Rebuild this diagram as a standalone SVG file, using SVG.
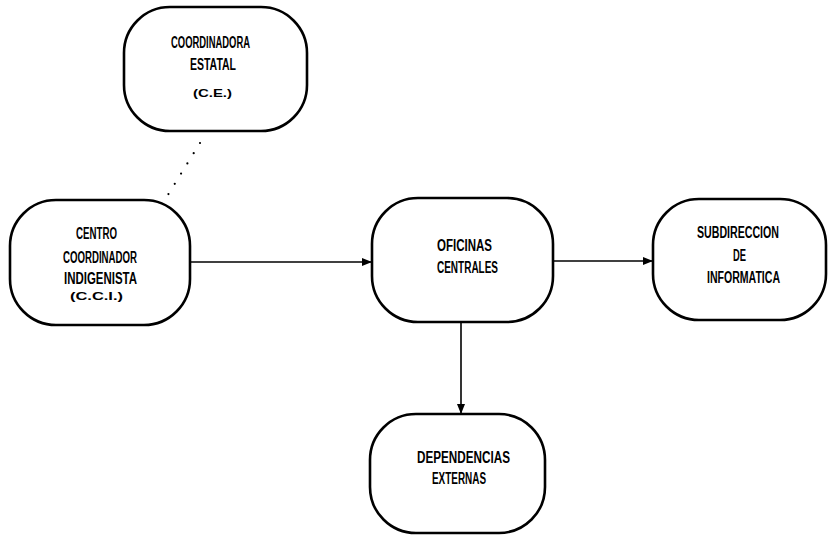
<svg xmlns="http://www.w3.org/2000/svg" width="828" height="537" viewBox="0 0 828 537">
<style>
.box{fill:#fff;stroke:#000;stroke-width:2.6}
.t{font-family:"Liberation Sans",Arial,sans-serif;font-weight:bold;font-size:16px;fill:#000}
.s{font-family:"Liberation Sans",Arial,sans-serif;font-weight:bold;font-size:11px;fill:#000}
.c{stroke:#000;stroke-width:1.6;fill:none}
.dot{stroke:#000;stroke-width:2.2;stroke-linecap:round;stroke-dasharray:0 12;fill:none}
</style>
<defs>
<marker id="ah" markerWidth="10" markerHeight="8" refX="9" refY="4" orient="auto" markerUnits="userSpaceOnUse">
<path d="M0,0 L10,4 L0,8 Z" fill="#000"/>
</marker>
</defs>
<rect width="828" height="537" fill="#fff"/>
<g id="connectors">
<line class="c" x1="190" y1="262" x2="371" y2="262" marker-end="url(#ah)"/>
<line class="c" x1="553" y1="261" x2="652" y2="261" marker-end="url(#ah)"/>
<line class="c" x1="461" y1="322" x2="461" y2="413" marker-end="url(#ah)"/>
<path class="dot" d="M200,143 L166,198"/>
</g>
<g id="ce">
<rect class="box" x="124" y="7" width="183" height="124" rx="46" ry="46"/>
<text class="t" x="171" y="48" textLength="79" lengthAdjust="spacingAndGlyphs">COORDINADORA</text>
<text class="t" x="190" y="70" textLength="46" lengthAdjust="spacingAndGlyphs">ESTATAL</text>
<text class="s" x="193" y="97" textLength="39" lengthAdjust="spacingAndGlyphs">(C.E.)</text>
</g>
<g id="cci">
<rect class="box" x="10" y="200" width="180" height="125" rx="46" ry="46"/>
<text class="t" x="76" y="239" textLength="41" lengthAdjust="spacingAndGlyphs">CENTRO</text>
<text class="t" x="63" y="263" textLength="74" lengthAdjust="spacingAndGlyphs">COORDINADOR</text>
<text class="t" x="64" y="284" textLength="73" lengthAdjust="spacingAndGlyphs">INDIGENISTA</text>
<text class="s" x="70" y="300" textLength="53" lengthAdjust="spacingAndGlyphs">(C.C.I.)</text>
</g>
<g id="oc">
<rect class="box" x="372" y="198" width="181" height="124" rx="46" ry="46"/>
<text class="t" x="437" y="251" textLength="55" lengthAdjust="spacingAndGlyphs">OFICINAS</text>
<text class="t" x="437" y="273" textLength="61" lengthAdjust="spacingAndGlyphs">CENTRALES</text>
</g>
<g id="sub">
<rect class="box" x="653" y="199" width="173" height="121" rx="46" ry="46"/>
<text class="t" x="697" y="238" textLength="82" lengthAdjust="spacingAndGlyphs">SUBDIRECCION</text>
<text class="t" x="733" y="261" textLength="13" lengthAdjust="spacingAndGlyphs">DE</text>
<text class="t" x="707" y="283" textLength="73" lengthAdjust="spacingAndGlyphs">INFORMATICA</text>
</g>
<g id="dep">
<rect class="box" x="370" y="414" width="175" height="119" rx="46" ry="46"/>
<text class="t" x="417" y="463" textLength="93" lengthAdjust="spacingAndGlyphs">DEPENDENCIAS</text>
<text class="t" x="432" y="484" textLength="54" lengthAdjust="spacingAndGlyphs">EXTERNAS</text>
</g>
</svg>
